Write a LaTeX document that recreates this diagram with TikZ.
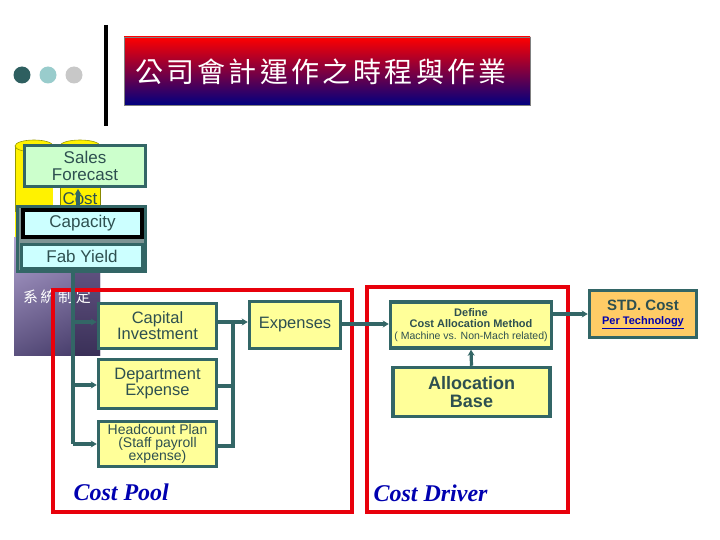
\documentclass[tikz,border=0pt]{standalone}
\usepackage{fontspec}
\setmainfont{Liberation Sans}
\newfontfamily\serifit{Liberation Serif}
\newfontfamily\cjk{Noto Sans CJK TC}
\usetikzlibrary{arrows.meta,shapes.geometric}
\definecolor{teal1}{HTML}{336666}
\definecolor{txt}{HTML}{2E5050}
\definecolor{lyel}{HTML}{FFFF99}
\definecolor{lgreen}{HTML}{CCFFCC}
\definecolor{lcyan}{HTML}{CCFFFF}
\definecolor{redbox}{HTML}{E8000B}
\definecolor{orangebox}{HTML}{FFCC66}
\definecolor{bluet}{HTML}{0000B0}
\definecolor{dotA}{HTML}{2E5F60}
\definecolor{dotB}{HTML}{99CCCC}
\definecolor{dotC}{HTML}{C8C8C8}
\definecolor{titmid}{HTML}{8B0A7A}
\definecolor{titbot}{HTML}{000080}
\definecolor{olive1}{HTML}{999900}
\definecolor{olive2}{HTML}{888800}
\definecolor{purA}{HTML}{A89CC8}
\definecolor{purB}{HTML}{4A3F6E}
\definecolor{purC}{HTML}{B7A8D6}
\definecolor{purD}{HTML}{3C3260}
\definecolor{purE}{HTML}{6E5E8E}
\definecolor{purF}{HTML}{3A3058}
\definecolor{panelc}{HTML}{7D9494}
\newcommand{\tk}{\kern3.2pt}
\tikzset{
  box/.style={draw=teal1, line width=3.5pt, fill=lyel, text=txt, align=center, inner sep=0pt, font=\fontsize{16.5}{16}\selectfont},
  conn/.style={draw=teal1, line width=3.2pt},
  arr/.style={conn, -{Stealth[length=6pt,width=7pt]}},
  redframe/.style={draw=redbox, line width=4pt},
}
\begin{document}
\begin{tikzpicture}[x=1pt,y=-1pt]
\useasboundingbox (0,0) rectangle (720,540);
\fill[white] (0,0) rectangle (720,540);
% bullets
\fill[dotA] (22,75) circle (8.5);
\fill[dotB] (48,75) circle (8.5);
\fill[dotC] (74,75) circle (8.5);
% vertical bar
\draw[line width=4pt] (106,25) -- (106,126);
% title
\shade[top color=red, middle color=titmid, bottom color=titbot] (124,37) rectangle (530,105);
\draw[gray, line width=0.6pt] (124,37) rectangle (530,105);
\node[text=white, font=\cjk\fontsize{28}{28}\selectfont] (title) at (321,72) {公\tk 司\tk 會\tk 計\tk 運\tk 作\tk 之\tk 時\tk 程\tk 與\tk 作\tk 業};
% yellow cylinders
\fill[yellow] (15,146) rectangle (53,238);
\draw[olive1, line width=0.6pt] (15,146) -- (15,212);
\fill[yellow, draw=olive1, line width=0.6pt] (34,146) ellipse (19 and 6);
\fill[yellow] (60,146) rectangle (100,212);
\fill[yellow, draw=olive1, line width=0.6pt] (80,146) ellipse (20 and 6);
\node[text=txt, font=\fontsize{17}{17}\selectfont, draw=olive2, line width=0.5pt, fill=yellow, inner sep=0pt, minimum width=40pt, minimum height=26pt] (costlbl) at (80,199) {Cost};
% purple panel
\shade[left color=purA, right color=purB] (14,237) rectangle (100,355);
\shade[top color=purC, bottom color=purD, opacity=0.7] (14,237) rectangle (73,355);
\shade[top color=purE, bottom color=purF] (73,237) rectangle (100,355);
\node[text=white, font=\cjk\fontsize{15}{15}\selectfont] (sys) at (57,297) {系\,統\,制\,定};
% Sales forecast
\node[draw=teal1, line width=3.5pt, fill=lgreen, text=txt, align=center, font=\fontsize{17}{16.5}\selectfont, minimum width=121pt, minimum height=41pt, inner sep=0pt] (sales) at (85,166) {Sales\\Forecast};
% capacity panel
\node[draw=teal1, line width=3pt, fill=panelc, minimum width=128pt, minimum height=65pt, inner sep=0pt] (panel) at (81.5,239) {};
\node[draw=black, line width=3.5pt, fill=lcyan, text=txt, font=\fontsize{17}{17}\selectfont, minimum width=119pt, minimum height=27pt, inner sep=0pt] (cap) at (82.5,223.5) {Capacity};
\node[draw=teal1, line width=2.5pt, fill=lcyan, text=txt, font=\fontsize{17}{17}\selectfont, minimum width=121pt, minimum height=24pt, inner sep=0pt] (fab) at (82,256.5) {Fab Yield};
\draw[arr] (78,205) -- (78,189);
% red frames
\draw[redframe] (53,290) rectangle (352,512);
\draw[redframe] (367,287) rectangle (568,512);
% cost pool boxes
\node[box, minimum width=118pt, minimum height=45pt] (capinv) at (157.5,326) {Capital\\Investment};
\node[box, minimum width=118pt, minimum height=49pt] (dept) at (157.5,384) {Department\\Expense};
\node[box, minimum width=118pt, minimum height=45pt, font=\fontsize{14}{13.2}\selectfont] (head) at (157.5,444) {Headcount Plan\\(Staff payroll\\expense)};
\node[box, minimum width=91pt, minimum height=47pt] (exp) at (295,325) {Expenses};
% left distribution
\coordinate (top) at (73,271);
\coordinate (j1) at (73,322);
\coordinate (j2) at (73,385);
\coordinate (j3) at (73,444);
\draw[conn] (top) -- (j3);
\draw[arr] (j1) -- (capinv.west |- j1);
\draw[arr] (j2) -- (dept.west |- j2);
\draw[arr] (j3) -- (head.west |- j3);
% merge
\coordinate (m1) at (233,322);
\coordinate (m2) at (233,386);
\coordinate (m3) at (233,446);
\draw[conn] (capinv.east |- m1) -- (m1);
\draw[conn] (dept.east |- m2) -- (m2);
\draw[conn] (head.east |- m3) -- (m3) -- (m1);
\draw[arr] (m1) -- (exp.west |- m1);
% cost driver
\node[box, minimum width=161pt, minimum height=46pt, inner sep=0pt, font=\fontsize{11}{11.5}\selectfont] (def) at (471,325) {\bfseries Define\\\bfseries Cost Allocation Method\\[0.5pt]{\fontsize{10.5}{11}\selectfont ( Machine vs. Non-Mach related)}};
\node[box, minimum width=157pt, minimum height=49pt, font=\bfseries\fontsize{18}{17.5}\selectfont] (alloc) at (471.5,392) {Allocation\\Base};
\node[box, fill=orangebox, minimum width=107pt, minimum height=47pt, inner sep=0pt, font=\fontsize{15}{14}\selectfont] (std) at (643,314) {\bfseries STD. Cost\\{\color{bluet}\bfseries\fontsize{11}{11}\selectfont\underline{Per Technology}}};
\coordinate (e1) at (342,324);
\coordinate (d1) at (553,314);
\draw[arr] (exp.east |- e1) -- (def.west |- e1);
\draw[arr] (alloc.north) -- (def.south);
\draw[arr] (def.east |- d1) -- (std.west |- d1);
% labels
\node[text=bluet, font=\serifit\bfseries\itshape\fontsize{24}{24}\selectfont, anchor=west] (pool) at (70,492) {Cost Pool};
\node[text=bluet, font=\serifit\bfseries\itshape\fontsize{24}{24}\selectfont, anchor=west] (driver) at (370,493) {Cost Driver};
\end{tikzpicture}
\end{document}
